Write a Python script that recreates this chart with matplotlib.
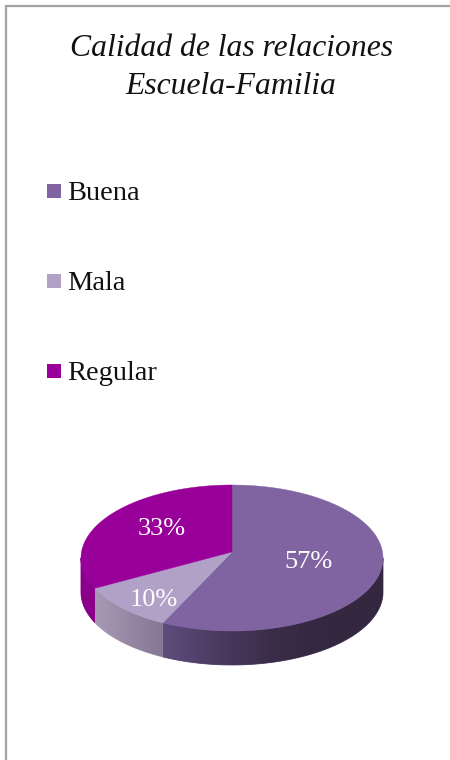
import numpy as np
import matplotlib
matplotlib.use("Agg")
import matplotlib.pyplot as plt
from matplotlib.patches import Polygon, Rectangle
from matplotlib.colors import LinearSegmentedColormap

# Data
categories = ["Buena", "Mala", "Regular"]
values = [57, 10, 33]
value_labels = ["57%", "10%", "33%"]
title_lines = ["Calidad de las relaciones", "Escuela-Familia"]

# Style
top_colors = ["#8064a2", "#b2a1c7", "#990099"]
wall_colors = [
    ["#5f4c7c", "#4a3a60", "#3a2d48", "#33283f", "#33283f"],
    ["#a899b4", "#857693"],
    ["#8a008a", "#8a008a"],
]
frame_color = "#a3a3a3"
serif = ["Liberation Serif", "DejaVu Serif"]

W, H = 450, 760
fig = plt.figure(figsize=(W / 100, H / 100), dpi=100, facecolor="white")
ax = fig.add_axes([0, 0, 1, 1])
ax.set_xlim(0, W)
ax.set_ylim(H, 0)
ax.axis("off")

# Perspective view of the pie (angles clockwise from 12 o'clock)
CX, CY, AX, AY, K, DEPTH = 232.0, 552.0, 150.5, 72.5, 0.082, 34.0


def project(theta_deg):
    t = np.radians(theta_deg)
    s = 1.0 / (1.0 + K * np.cos(t))
    return CX + AX * np.sin(t) * s, CY - AY * np.cos(t) * s


fractions = np.cumsum([0] + values) / np.sum(values) * 360.0
vis_lo = np.degrees(np.arccos(-K))
vis_hi = 360.0 - vis_lo

# Side walls with horizontal gradients
for i in range(len(values)):
    a, b = max(fractions[i], vis_lo), min(fractions[i + 1], vis_hi)
    if b <= a:
        continue
    th = np.linspace(a, b, 200)
    x, y = project(th)
    px = np.r_[x, x[::-1]]
    py = np.r_[y, y[::-1] + DEPTH]
    # Solid underlay so no pale seam shows between neighbouring walls
    ax.add_patch(Polygon(np.c_[px, py], closed=True, facecolor=wall_colors[i][0],
                         edgecolor=wall_colors[i][0], linewidth=0.6, zorder=0.5))
    poly = Polygon(np.c_[px, py], closed=True, facecolor="none", edgecolor="none")
    ax.add_patch(poly)
    cmap = LinearSegmentedColormap.from_list("w", wall_colors[i])
    grad = np.linspace(0, 1, 256).reshape(1, -1)
    im = ax.imshow(grad, cmap=cmap, vmin=0, vmax=1, aspect="auto", interpolation="bilinear",
                   extent=[px.min(), px.max(), py.max(), py.min()], zorder=1)
    im.set_clip_path(poly)
ax.set_xlim(0, W)
ax.set_ylim(H, 0)

# Top faces
for i in range(len(values)):
    th = np.linspace(fractions[i], fractions[i + 1], 200)
    x, y = project(th)
    ax.add_patch(Polygon(np.c_[np.r_[CX, x], np.r_[CY, y]], closed=True,
                         facecolor=top_colors[i], edgecolor=top_colors[i], linewidth=0.3, zorder=2))

# Value labels
label_xy = [(308, 562), (154, 600), (162, 529)]
for lab, (lx, ly) in zip(value_labels, label_xy):
    ax.text(lx, ly, lab, color="white", fontsize=19, family=serif, ha="center", va="center", zorder=3)

# Title
ax.text(232, 49, title_lines[0], fontsize=22.8, style="italic", family=serif, color="#111111",
        ha="center", va="center")
ax.text(231, 86, title_lines[1], fontsize=22.8, style="italic", family=serif, color="#111111",
        ha="center", va="center")

# Legend
legend_y = [191, 281, 371]
for name, col, ly in zip(categories, top_colors, legend_y):
    ax.add_patch(Rectangle((47, ly - 7), 14, 14, facecolor=col, edgecolor="none"))
    ax.text(67, ly + 3, name, fontsize=20.5, family=serif, color="#111111", ha="left", va="center")

# Frame fragments
ax.plot([6, 6, W], [H, 6, 6], color=frame_color, linewidth=1.6, solid_joinstyle="miter", zorder=4)

fig.savefig("out.png", dpi=100, facecolor="white")
